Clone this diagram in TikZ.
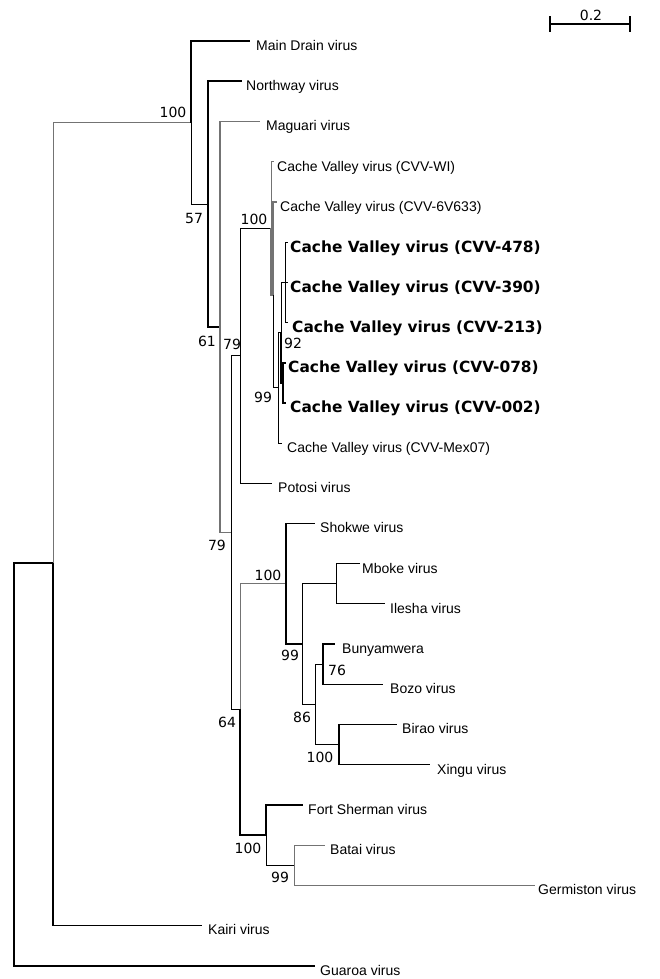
\documentclass[tikz,border=0pt]{standalone}
\usepackage{fontspec}
\setmainfont{Liberation Sans}
\newfontfamily\djv{DejaVu Sans}
\begin{document}
\begin{tikzpicture}[x=1pt,y=-1pt,
  br/.style={line width=0.7pt, black},
  thk/.style={line width=1.8pt, black},
  med/.style={line width=1.2pt, black},
  gry/.style={line width=1.4pt, black!55},
  lgr/.style={line width=0.9pt, black!55},
  leaf/.style={anchor=base west, inner sep=0pt, font=\fontsize{14}{14}\selectfont},
  bleaf/.style={anchor=base west, inner sep=0pt, font=\djv\bfseries\fontsize{15.4}{15.4}\selectfont},
  bs/.style={inner sep=0pt, font=\djv\fontsize{14}{14}\selectfont},
]
\path[use as bounding box] (0,0) rectangle (660,979);
% internal nodes
\coordinate (R) at (14,764);
\coordinate (A) at (53,563);
\coordinate (B) at (191,122.55);
\coordinate (C) at (208,204.1);
\coordinate (D) at (220,327);
\coordinate (E) at (231,532.5);
\coordinate (F) at (240,355.7);
\coordinate (H) at (271,228.2);
\coordinate (I) at (273,294.8);
\coordinate (J) at (278,387.7);
\coordinate (K) at (281,332.45);
\coordinate (L) at (285,282.2);
\coordinate (M) at (283,382.7);
\coordinate (G) at (240,709.3);
\coordinate (N) at (286,583.7);
\coordinate (O) at (302,644);
\coordinate (P) at (336,583.7);
\coordinate (Q) at (315,704.3);
\coordinate (Rr) at (323,664.1);
\coordinate (S) at (339,744.5);
\coordinate (T) at (266,834.95);
\coordinate (U) at (294,865.1);
% leaf tips
\coordinate (t1) at (250,41);
\coordinate (t2) at (242,81.2);
\coordinate (t3) at (260,121.4);
\coordinate (t4) at (274,161.6);
\coordinate (t5) at (277,201.8);
\coordinate (t6) at (288,242);
\coordinate (t7) at (288,282.2);
\coordinate (t8) at (288,322.4);
\coordinate (t9) at (286,362.6);
\coordinate (t10) at (286,402.8);
\coordinate (t11) at (282,443);
\coordinate (t12) at (272,483.2);
\coordinate (t13) at (315,523.4);
\coordinate (t14) at (360,563.6);
\coordinate (t15) at (385,603.8);
\coordinate (t16) at (335,644);
\coordinate (t17) at (383,684.2);
\coordinate (t18) at (397,724.4);
\coordinate (t19) at (430,764.6);
\coordinate (t20) at (303,804.8);
\coordinate (t21) at (325,845);
\coordinate (t22) at (535,885.2);
\coordinate (t23) at (202,925.4);
\coordinate (t24) at (315,965.6);
% leaf labels
\node[leaf] (l1) at (256,50.5) {Main Drain virus};
\node[leaf] (l2) at (246,90.7) {Northway virus};
\node[leaf] (l3) at (266,130.9) {Maguari virus};
\node[leaf] (l4) at (277,171.1) {Cache Valley virus (CVV-WI)};
\node[leaf] (l5) at (280,211.3) {Cache Valley virus (CVV-6V633)};
\node[bleaf] (l6) at (290,252) {Cache Valley virus (CVV-478)};
\node[bleaf] (l7) at (290,292.2) {Cache Valley virus (CVV-390)};
\node[bleaf] (l8) at (292,332.4) {Cache Valley virus (CVV-213)};
\node[bleaf] (l9) at (288,372.6) {Cache Valley virus (CVV-078)};
\node[bleaf] (l10) at (290,412.8) {Cache Valley virus (CVV-002)};
\node[leaf] (l11) at (287,452.5) {Cache Valley virus (CVV-Mex07)};
\node[leaf] (l12) at (278,492.7) {Potosi virus};
\node[leaf] (l13) at (320,532.9) {Shokwe virus};
\node[leaf] (l14) at (362,573.1) {Mboke virus};
\node[leaf] (l15) at (390,613.3) {Ilesha virus};
\node[leaf] (l16) at (342,653.5) {Bunyamwera};
\node[leaf] (l17) at (390,693.7) {Bozo virus};
\node[leaf] (l18) at (402,733.9) {Birao virus};
\node[leaf] (l19) at (437,774.1) {Xingu virus};
\node[leaf] (l20) at (308,814.3) {Fort Sherman virus};
\node[leaf] (l21) at (330,854.5) {Batai virus};
\node[leaf] (l22) at (538,894.7) {Germiston virus};
\node[leaf] (l23) at (208,934.9) {Kairi virus};
\node[leaf] (l24) at (320,975.1) {Guaroa virus};
% branches
\draw[thk] (R) |- (t24);
\draw[thk] (R) |- (A);
\draw[thk] (A) |- (t23);
\draw[lgr] (A) |- (B);
\draw[thk] (B) |- (t1);
\draw[br] (B) |- (C);
\draw[thk] (C) |- (t2);
\draw[thk] (C) |- (D);
\draw[gry] (D) |- (t3);
\draw[gry] (D) |- (E);
\draw[br] (E) |- (F);
\draw[br] (E) |- (G);
\draw[br] (F) |- (H);
\draw[br] (F) |- (t12);
\draw[lgr] (H) |- (t4);
\draw[gry] (H) |- (I);
\draw[gry] (I) |- (t5);
\draw[br] (I) |- (J);
\draw[br] (J) |- (K);
\draw[br] (J) |- (t11);
\draw[br] (K) |- (L);
\draw[thk] (K) |- (M);
\draw[br] (L) |- (t6);
\draw[br] (L) |- (t7);
\draw[br] (L) |- (t8);
\draw[thk] (M) |- (t9);
\draw[thk] (M) |- (t10);
\draw[lgr] (G) |- (N);
\draw[med] (G) |- (T);
\draw[med] (N) |- (t13);
\draw[thk] (N) |- (O);
\draw[br] (O) |- (P);
\draw[br] (O) |- (Q);
\draw[br] (P) |- (t14);
\draw[br] (P) |- (t15);
\draw[br] (Q) |- (Rr);
\draw[br] (Q) |- (S);
\draw[med] (Rr) |- (t16);
\draw[med] (Rr) |- (t17);
\draw[med] (S) |- (t18);
\draw[med] (S) |- (t19);
\draw[thk] (T) |- (t20);
\draw[br] (T) |- (U);
\draw[lgr] (U) |- (t21);
\draw[lgr] (U) |- (t22);
% bootstrap values
\node[bs] (bB) at (173,112) {100};
\node[bs] (bC) at (194,218) {57};
\node[bs] (bD) at (207,341) {61};
\node[bs] (bF) at (232,344) {79};
\node[bs] (bH) at (254,219) {100};
\node[bs] (bJ) at (263,397) {99};
\node[bs] (bK) at (293,343) {92};
\node[bs] (bE) at (217,545) {79};
\node[bs] (bN) at (268,575) {100};
\node[bs] (bO) at (290,655) {99};
\node[bs] (bR) at (337,670) {76};
\node[bs] (bQ) at (302,717) {86};
\node[bs] (bS) at (320,757) {100};
\node[bs] (bG) at (227,722) {64};
\node[bs] (bT) at (248,848) {100};
\node[bs] (bU) at (280,877) {99};
% scale bar
\coordinate (s1) at (550,24);
\coordinate (s2) at (630,24);
\draw[med] (s1) -- (s2);
\draw[med] ([yshift=-8pt]s1) -- ([yshift=8pt]s1);
\draw[med] ([yshift=-8pt]s2) -- ([yshift=8pt]s2);
\node[bs] (sl) at (591,15) {0.2};
\end{tikzpicture}
\end{document}
